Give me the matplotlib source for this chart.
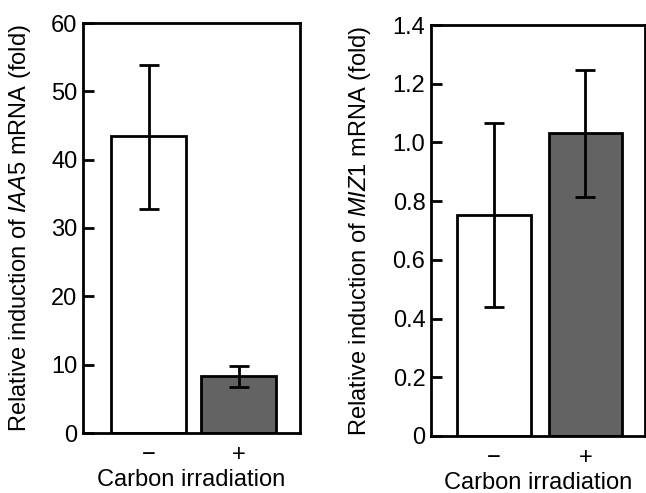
import matplotlib
matplotlib.use("Agg")
import matplotlib.pyplot as plt

plt.rcParams['font.family'] = ['Liberation Sans', 'DejaVu Sans']
plt.rcParams['mathtext.fontset'] = 'custom'
plt.rcParams['mathtext.rm'] = 'Liberation Sans'
plt.rcParams['mathtext.it'] = 'Liberation Sans:italic'

groups = ['\u2212', '+']
iaa5_mean = [43.4, 8.35]
iaa5_low = [32.8, 6.8]
iaa5_high = [53.9, 9.8]
miz1_mean = [0.753, 1.033]
miz1_low = [0.44, 0.815]
miz1_high = [1.066, 1.248]
bar_colors = ['white', '#636363']

left_ticks = [0, 10, 20, 30, 40, 50, 60]
left_ticklabels = ['0', '10', '20', '30', '40', '50', '60']
right_ticks = [0, 0.2, 0.4, 0.6, 0.8, 1.0, 1.2, 1.4]
right_ticklabels = ['0', '0.2', '0.4', '0.6', '0.8', '1.0', '1.2', '1.4']

W, H = 646, 493
fig = plt.figure(figsize=(W / 100, H / 100), dpi=100)
ax1 = fig.add_axes([83 / W, (H - 433) / H, 217 / W, 410 / H])
ax2 = fig.add_axes([431 / W, (H - 436) / H, 214 / W, 411 / H])

panels = [
    (ax1, iaa5_mean, iaa5_low, iaa5_high, (-0.728, 1.683), (0, 60),
     left_ticks, left_ticklabels, 'Relative induction of $\\it{IAA5}$ mRNA (fold)', 0.83),
    (ax2, miz1_mean, miz1_low, miz1_high, (-0.687, 1.65), (0, 1.4),
     right_ticks, right_ticklabels, 'Relative induction of $\\it{MIZ1}$ mRNA (fold)', 0.80),
]

for ax, mean, low, high, xlim, ylim, ticks, tlabels, ylabel, width in panels:
    x = list(range(len(groups)))
    err = [[m - l for m, l in zip(mean, low)], [h - m for m, h in zip(mean, high)]]
    ax.bar(x, mean, width=width, color=bar_colors, edgecolor='black', linewidth=2)
    ax.errorbar(x, mean, yerr=err, fmt='none', ecolor='black', elinewidth=2,
                capsize=7, capthick=2)
    ax.set_xlim(*xlim)
    ax.set_ylim(*ylim)
    ax.set_yticks(ticks)
    ax.set_yticklabels(tlabels)
    ax.set_xticks(x)
    ax.set_xticklabels(groups)
    ax.tick_params(axis='y', direction='in', length=8, width=2, labelsize=17, pad=4)
    ax.tick_params(axis='x', length=0, labelsize=17, pad=8)
    for s in ax.spines.values():
        s.set_linewidth(2)
    ax.set_xlabel('Carbon irradiation', fontsize=17, labelpad=2)
    ax.set_ylabel(ylabel, fontsize=17)

ax1.yaxis.set_label_coords(-50 / 217, 0.5)
ax2.yaxis.set_label_coords(-58 / 214, 0.5)

fig.savefig('out.png', dpi=100)
